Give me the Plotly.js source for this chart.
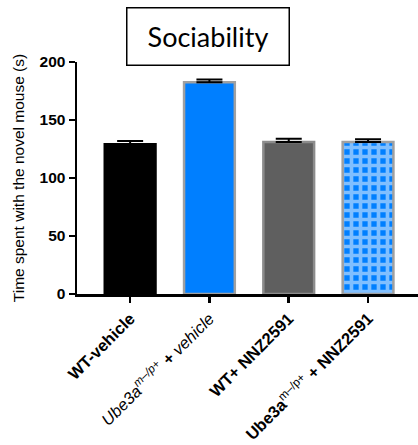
<!DOCTYPE html>
<html>
<head>
<meta charset="utf-8">
<script src="https://cdn.plot.ly/plotly-3.0.1.min.js"></script>
<style>html,body{margin:0;padding:0;background:#fff;}#chart{width:418px;height:445px;}</style>
</head>
<body>
<div id="chart"></div>
<script>
const categories = [
  "<b>WT-vehicle</b>",
  "<i>Ube3a</i><sup><i>m–/p+</i></sup><i> <b>+</b> vehicle</i>",
  "<b>WT+ NNZ2591</b>",
  "<b>Ube3a</b><sup>m–/p+</sup><b> + NNZ2591</b>"
];
const values = [129, 182.5, 131, 131];
const errors = [3, 2.5, 2.8, 2.5];
const fillColors = ["#000000", "#007FFF", "#5F5F5F", "#007FFF"];
const lineColors = ["#000000", "#A0A0A0", "#8C8C8C", "#A0A0A0"];
const patterns = ["", "", "", "+"];
const patternFg = ["#A0A0A0", "#A0A0A0", "#A0A0A0", "#A0A0A0"];
const patternBg = ["#000000", "#007FFF", "#5F5F5F", "#007FFF"];
const yTicks = [0, 50, 100, 150, 200];

const trace = {
  type: "bar",
  x: [0, 1, 2, 3],
  y: values,
  width: 0.64,
  marker: {
    color: fillColors,
    line: {color: lineColors, width: 2.5},
    pattern: {shape: patterns, fgcolor: patternFg, bgcolor: patternBg, size: 9, solidity: 0.65, fillmode: "overlay"}
  },
  error_y: {type: "data", symmetric: false, array: errors, arrayminus: [0,0,0,0], color: "#000", thickness: 2, width: 13},
  hoverinfo: "none"
};

const layout = {
  width: 418, height: 445,
  margin: {l: 77, r: 0, t: 62, b: 151},
  paper_bgcolor: "#fff", plot_bgcolor: "#fff",
  showlegend: false,
  font: {family: "Liberation Sans, Arial, sans-serif", color: "#000"},
  xaxis: {
    range: [-0.67, 3.63],
    tickvals: [0, 1, 2, 3], ticktext: categories,
    tickangle: -45,
    ticks: "outside", ticklen: 6, tickwidth: 2.5, tickcolor: "#000",
    showline: true, linecolor: "#000", linewidth: 2.5,
    showgrid: false, zeroline: false,
    tickfont: {size: 16.5, color: "#000"}
  },
  yaxis: {
    range: [0, 200],
    tickvals: yTicks, ticktext: yTicks.map(v => "<b>" + v + "</b>"),
    ticks: "outside", ticklen: 6, tickwidth: 2.5, tickcolor: "#000",
    showline: true, linecolor: "#000", linewidth: 2.5,
    showgrid: false, zeroline: false,
    tickfont: {size: 15.5, color: "#000"},
    title: {text: "Time spent with the novel mouse (s)", font: {size: 15.5, color: "#000"}, standoff: 11}
  },
  annotations: [{
    xref: "paper", yref: "paper",
    x: 0.383, y: 1.108, xanchor: "center", yanchor: "middle",
    text: "Sociability", showarrow: false,
    font: {size: 27, family: "Lato, Open Sans, sans-serif", color: "#000"},
    width: 155, height: 50, borderpad: 3, bordercolor: "#000", borderwidth: 1.5, bgcolor: "#fff"
  }]
};

Plotly.newPlot("chart", [trace], layout, {displayModeBar: false, staticPlot: true});
</script>
</body>
</html>
